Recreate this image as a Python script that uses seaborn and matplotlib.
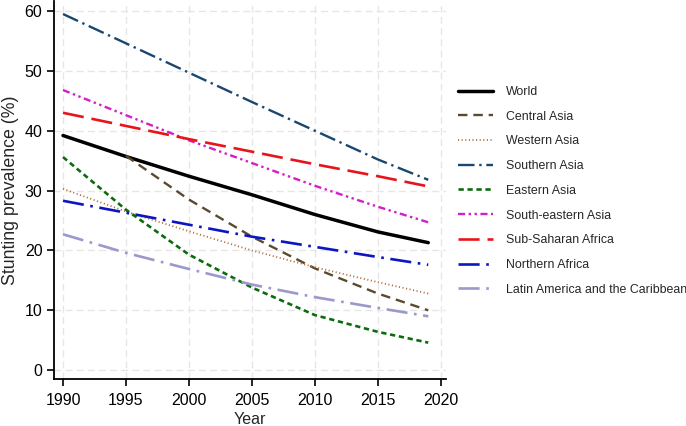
import pandas as pd
import matplotlib
matplotlib.use("Agg")
import matplotlib.pyplot as plt
import seaborn as sns

years = [1990, 1995, 2000, 2005, 2010, 2015, 2019]
years_central = [1995, 2000, 2005, 2010, 2015, 2019]

world = [39.2, 35.7, 32.4, 29.3, 26.0, 23.1, 21.3]
central_asia = [35.8, 28.5, 22.3, 17.0, 12.8, 10.0]
western_asia = [30.3, 26.5, 23.2, 20.0, 17.2, 14.7, 12.8]
southern_asia = [59.5, 54.6, 49.7, 44.8, 40.0, 35.2, 31.8]
eastern_asia = [35.6, 26.8, 19.3, 13.8, 9.2, 6.4, 4.6]
se_asia = [46.8, 42.6, 38.4, 34.6, 30.8, 27.3, 24.7]
ssa = [43.0, 40.8, 38.6, 36.5, 34.4, 32.4, 30.7]
n_africa = [28.3, 26.3, 24.3, 22.3, 20.6, 18.9, 17.6]
lac = [22.7, 19.6, 16.9, 14.3, 12.2, 10.4, 9.0]

series = [
    ("World", years, world, "black", "-", 2.5),
    ("Central Asia", years_central, central_asia, "#5a4a2e", (0, (4, 2.5)), 1.7),
    ("Western Asia", years, western_asia, "#b06a3a", (0, (0.6, 1.4)), 1.3),
    ("Southern Asia", years, southern_asia, "#1a476f", (0, (7, 2, 1, 2)), 1.7),
    ("Eastern Asia", years, eastern_asia, "#0d6b0d", (0, (2, 1.4)), 1.9),
    ("South-eastern Asia", years, se_asia, "#d21fc7", (0, (3, 1.5, 1, 1.5, 1, 1.5)), 1.7),
    ("Sub-Saharan Africa", years, ssa, "#e8141b", (0, (8, 3)), 1.9),
    ("Northern Africa", years, n_africa, "#0c16c0", (0, (8, 2.5, 1, 2.5)), 1.9),
    ("Latin America and the Caribbean", years, lac, "#9b98cc", (0, (8, 2.5, 1, 2.5)), 1.9),
]

sns.set_style("white")
plt.rcParams["font.family"] = ["Liberation Sans", "DejaVu Sans"]

fig = plt.figure(figsize=(6.86, 4.26), dpi=100)
ax = fig.add_axes([0.079, 0.11, 0.571, 0.888])

for name, x, y, color, ls, lw in series:
    df = pd.DataFrame({"Year": x, "Value": y})
    sns.lineplot(data=df, x="Year", y="Value", ax=ax, color=color,
                 linestyle=ls, linewidth=lw, label=name)

ax.set_xlim(1989.3, 2020.4)
ax.set_ylim(-1.5, 61.7)
ax.set_xticks(range(1990, 2021, 5))
ax.set_yticks(range(0, 61, 10))
ax.grid(True, color="#e6e6e6", linestyle=(0, (5, 3)), linewidth=1.0)
for s in ["top", "right"]:
    ax.spines[s].set_visible(False)
for s in ["left", "bottom"]:
    ax.spines[s].set_color("black")
    ax.spines[s].set_linewidth(1.3)
ax.tick_params(axis="both", direction="out", length=5, width=1.2, labelsize=11.5,
               bottom=True, left=True, colors="black")
ax.tick_params(axis="x", pad=5)
ax.set_xlabel("Year", fontsize=11.5, labelpad=3)
ax.set_ylabel("Stunting prevalence (%)", fontsize=12.8, labelpad=4)

ax.legend(loc="upper left", bbox_to_anchor=(0.66, 0.81), bbox_transform=fig.transFigure,
          frameon=False, fontsize=8.9, handlelength=2.85, handletextpad=1.05,
          labelspacing=1.03, borderaxespad=0)

fig.savefig("out.png", dpi=100)
